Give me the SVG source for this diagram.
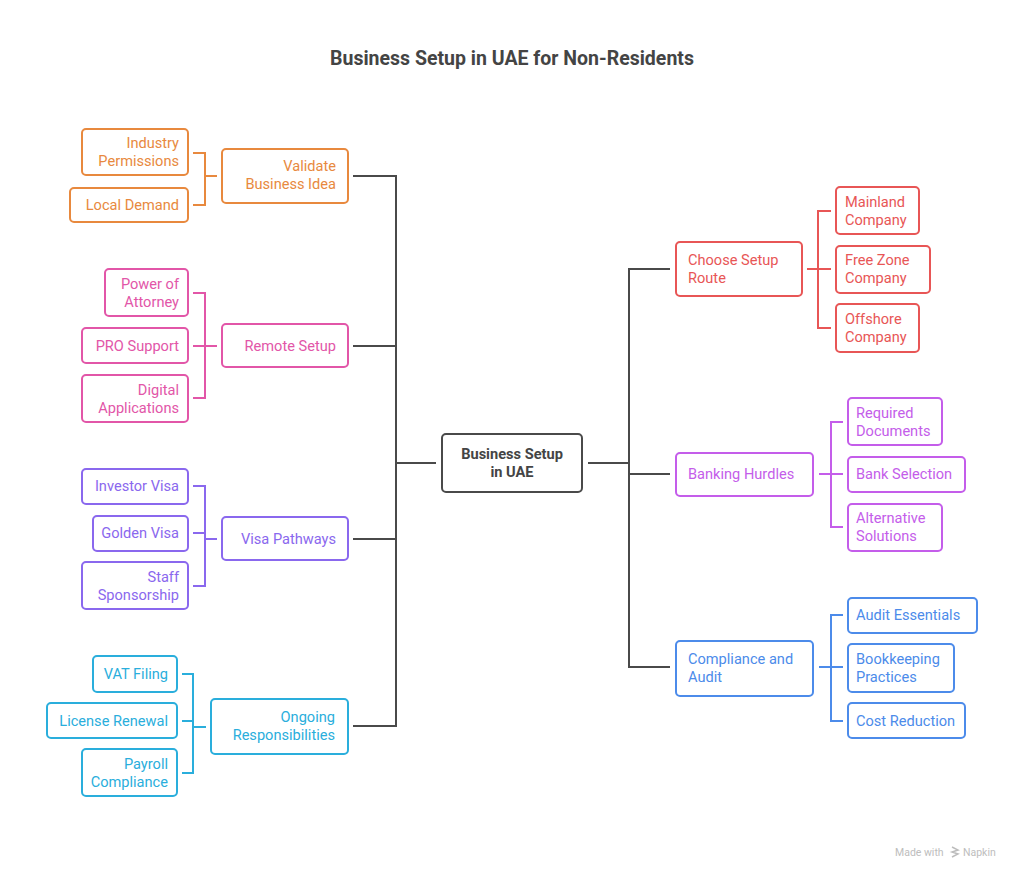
<svg xmlns="http://www.w3.org/2000/svg" width="1024" height="879" viewBox="0 0 1024 879">
<style>
text{font-family:Roboto,"Liberation Sans",sans-serif;font-size:14.6px}
.box{fill:#fff;stroke-width:2}
.ln{fill:none;stroke-width:2}
.trunk{fill:none;stroke:#4a4a4a;stroke-width:2}
.e{text-anchor:end}
.o .box,.o .ln{stroke:#E8893E}.o text{fill:#E8893E}
.p .box,.p .ln{stroke:#E256A8}.p text{fill:#E256A8}
.v .box,.v .ln{stroke:#8A68EE}.v text{fill:#8A68EE}
.c .box,.c .ln{stroke:#2AAEDC}.c text{fill:#2AAEDC}
.r .box,.r .ln{stroke:#E85656}.r text{fill:#E85656}
.m .box,.m .ln{stroke:#C45DEA}.m text{fill:#C45DEA}
.b .box,.b .ln{stroke:#4C8BEA}.b text{fill:#4C8BEA}
</style>
<rect width="1024" height="879" fill="#fff"/>
<text x="512" y="65" text-anchor="middle" style="font-size:19.5px;font-weight:bold;fill:#444">Business Setup in UAE for Non-Residents</text>

<g id="connectors">
<path class="trunk" d="M436 463H396M353 176H396V726H353M353 346H396M353 539H396"/>
<path class="trunk" d="M588 463H629M670 269H629V667H670M629 474H670"/>
<g class="o"><path class="ln" d="M193 153H205V205H193M205 176H217"/></g>
<g class="p"><path class="ln" d="M193 293H205V398H193M193 346H217"/></g>
<g class="v"><path class="ln" d="M193 486H205V586H193M193 533H205M205 539H217"/></g>
<g class="c"><path class="ln" d="M182 674H193V773H182M182 721H193M193 727H206"/></g>
<g class="r"><path class="ln" d="M807 269H831M831 211H818V328H831"/></g>
<g class="m"><path class="ln" d="M819 474H843M843 422H831V527H843"/></g>
<g class="b"><path class="ln" d="M819 667H843M843 615H831V721H843"/></g>
</g>

<g id="root"><rect x="442" y="434" width="140" height="58" rx="4" fill="#fff" stroke="#4a4a4a" stroke-width="2"/>
<text x="512" y="459" text-anchor="middle" style="font-weight:bold;fill:#444">Business Setup</text>
<text x="512" y="477" text-anchor="middle" style="font-weight:bold;fill:#444">in UAE</text></g>

<g id="validate" class="o"><rect class="box" x="222" y="149" width="126" height="54" rx="4"/><text class="e" x="336" y="171">Validate</text><text class="e" x="336" y="189">Business Idea</text></g>
<g id="industry" class="o"><rect class="box" x="82" y="129" width="106" height="46" rx="4"/><text class="e" x="179" y="148">Industry</text><text class="e" x="179" y="166">Permissions</text></g>
<g id="demand" class="o"><rect class="box" x="70" y="188" width="118" height="34" rx="4"/><text class="e" x="179" y="210">Local Demand</text></g>

<g id="remote" class="p"><rect class="box" x="222" y="324" width="126" height="43" rx="4"/><text class="e" x="336" y="351">Remote Setup</text></g>
<g id="poa" class="p"><rect class="box" x="105" y="269" width="83" height="47" rx="4"/><text class="e" x="179" y="289">Power of</text><text class="e" x="179" y="307">Attorney</text></g>
<g id="pro" class="p"><rect class="box" x="82" y="328" width="106" height="35" rx="4"/><text class="e" x="179" y="351">PRO Support</text></g>
<g id="digital" class="p"><rect class="box" x="82" y="375" width="106" height="47" rx="4"/><text class="e" x="179" y="395">Digital</text><text class="e" x="179" y="413">Applications</text></g>

<g id="visa" class="v"><rect class="box" x="222" y="517" width="126" height="43" rx="4"/><text class="e" x="336" y="544">Visa Pathways</text></g>
<g id="investor" class="v"><rect class="box" x="82" y="469" width="106" height="35" rx="4"/><text class="e" x="179" y="491">Investor Visa</text></g>
<g id="golden" class="v"><rect class="box" x="93" y="516" width="95" height="35" rx="4"/><text class="e" x="179" y="538">Golden Visa</text></g>
<g id="staff" class="v"><rect class="box" x="82" y="562" width="106" height="47" rx="4"/><text class="e" x="179" y="582">Staff</text><text class="e" x="179" y="600">Sponsorship</text></g>

<g id="ongoing" class="c"><rect class="box" x="211" y="699" width="137" height="55" rx="4"/><text class="e" x="335" y="722">Ongoing</text><text class="e" x="335" y="740">Responsibilities</text></g>
<g id="vat" class="c"><rect class="box" x="93" y="656" width="84" height="36" rx="4"/><text class="e" x="168" y="679">VAT Filing</text></g>
<g id="license" class="c"><rect class="box" x="47" y="703" width="130" height="35" rx="4"/><text class="e" x="168" y="726">License Renewal</text></g>
<g id="payroll" class="c"><rect class="box" x="82" y="749" width="95" height="47" rx="4"/><text class="e" x="168" y="769">Payroll</text><text class="e" x="168" y="787">Compliance</text></g>

<g id="route" class="r"><rect class="box" x="676" y="242" width="126" height="54" rx="4"/><text x="688" y="265">Choose Setup</text><text x="688" y="283">Route</text></g>
<g id="mainland" class="r"><rect class="box" x="836" y="187" width="83" height="47" rx="4"/><text x="845" y="207">Mainland</text><text x="845" y="225">Company</text></g>
<g id="freezone" class="r"><rect class="box" x="836" y="246" width="94" height="47" rx="4"/><text x="845" y="265">Free Zone</text><text x="845" y="283">Company</text></g>
<g id="offshore" class="r"><rect class="box" x="836" y="304" width="83" height="48" rx="4"/><text x="845" y="324">Offshore</text><text x="845" y="342">Company</text></g>

<g id="banking" class="m"><rect class="box" x="676" y="453" width="137" height="43" rx="4"/><text x="688" y="479">Banking Hurdles</text></g>
<g id="required" class="m"><rect class="box" x="848" y="398" width="94" height="47" rx="4"/><text x="856" y="418">Required</text><text x="856" y="436">Documents</text></g>
<g id="bank" class="m"><rect class="box" x="848" y="457" width="117" height="35" rx="4"/><text x="856" y="479">Bank Selection</text></g>
<g id="alt" class="m"><rect class="box" x="848" y="504" width="94" height="47" rx="4"/><text x="856" y="523">Alternative</text><text x="856" y="541">Solutions</text></g>

<g id="compliance" class="b"><rect class="box" x="676" y="641" width="137" height="55" rx="4"/><text x="688" y="664">Compliance and</text><text x="688" y="682">Audit</text></g>
<g id="auditess" class="b"><rect class="box" x="848" y="598" width="129" height="35" rx="4"/><text x="856" y="620">Audit Essentials</text></g>
<g id="bookkeeping" class="b"><rect class="box" x="848" y="644" width="106" height="48" rx="4"/><text x="856" y="664">Bookkeeping</text><text x="856" y="682">Practices</text></g>
<g id="cost" class="b"><rect class="box" x="848" y="703" width="117" height="35" rx="4"/><text x="856" y="726">Cost Reduction</text></g>

<g id="watermark">
<text x="895" y="856" style="font-size:10.5px;fill:#bdbdbd">Made with</text>
<path d="M952 847l6 3-6 2 6 2-6 3" fill="none" stroke="#bdbdbd" stroke-width="1.5"/>
<text x="963" y="856" style="font-size:10.5px;fill:#bdbdbd">Napkin</text>
</g>
</svg>
